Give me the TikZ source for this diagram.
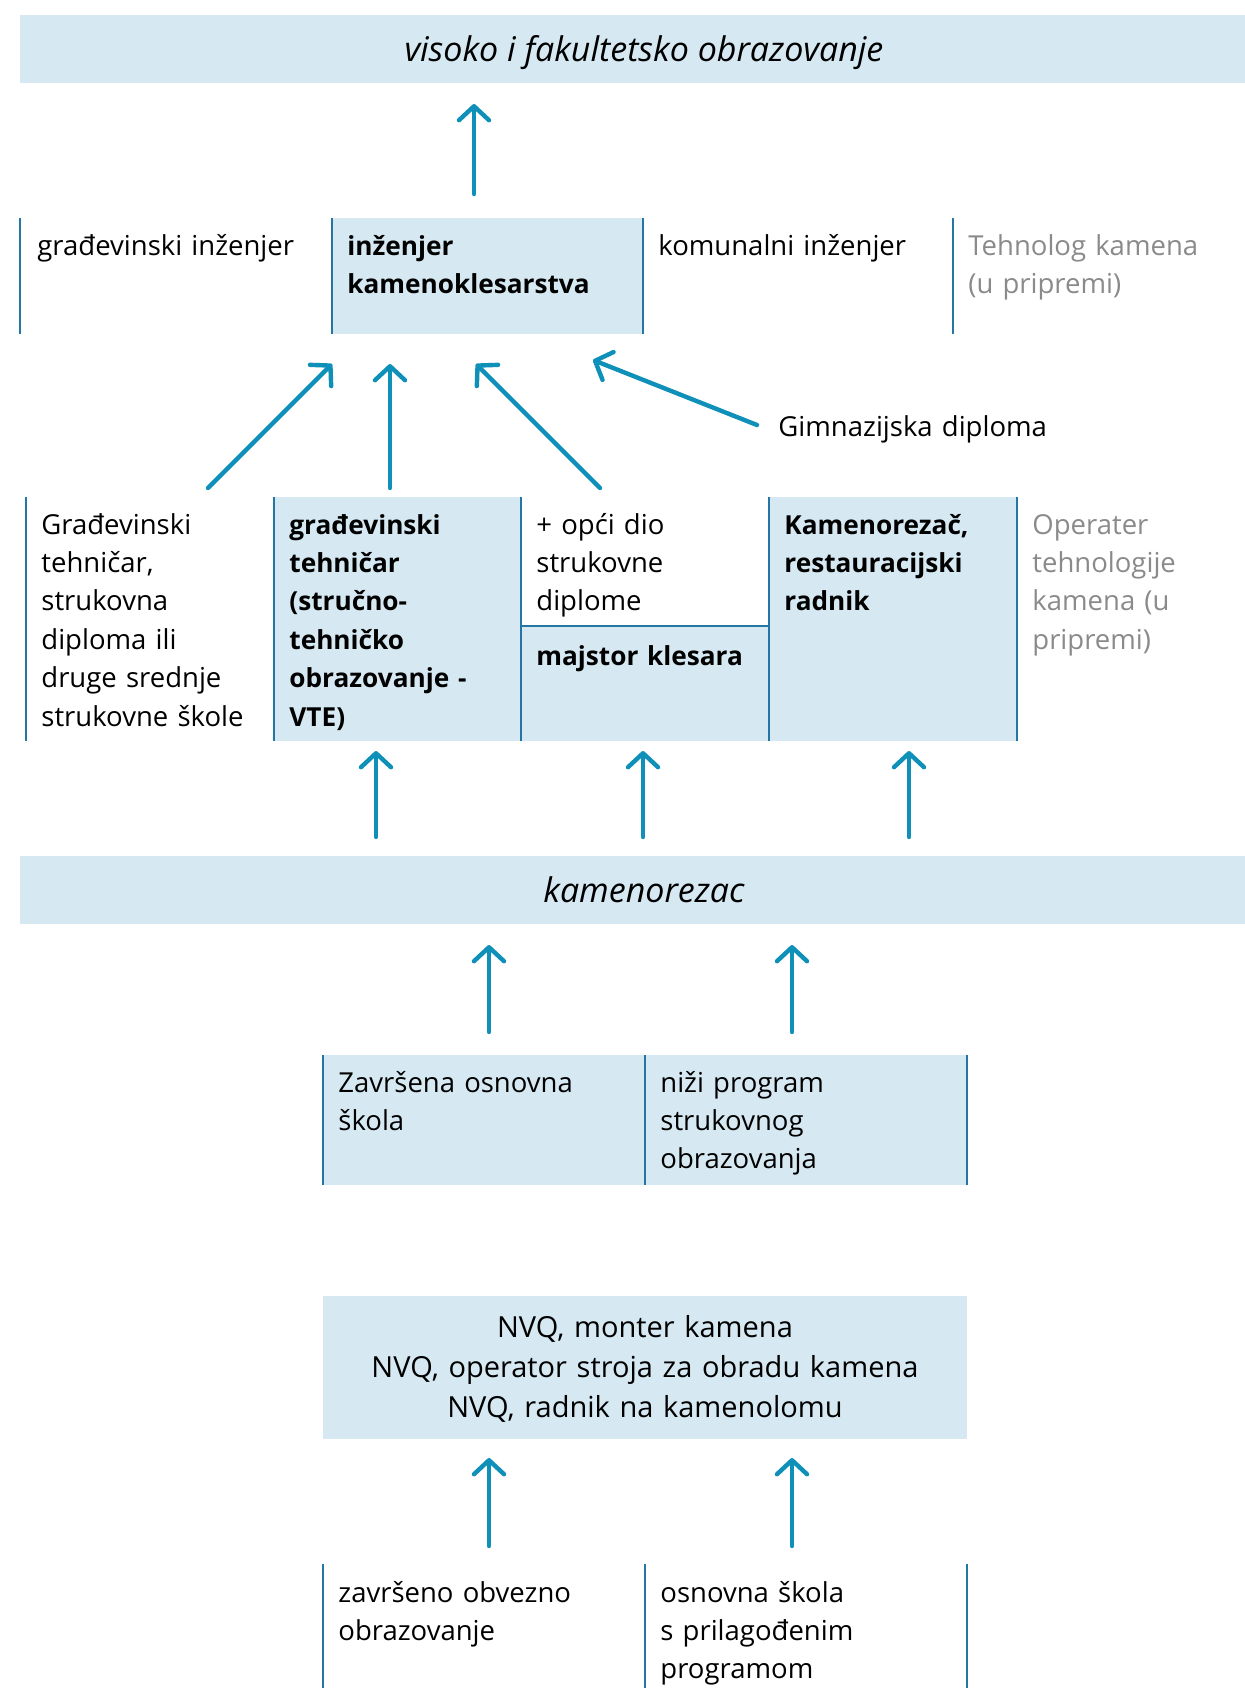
\documentclass[tikz,border=0pt]{standalone}
\usepackage{fontspec}
\setmainfont{Open Sans}
\usetikzlibrary{arrows.meta}

\definecolor{boxfill}{HTML}{D6E8F2}
\definecolor{boxline}{HTML}{2676A3}
\definecolor{arrowcol}{HTML}{0E90B8}
\definecolor{greytext}{HTML}{8A8A8A}

\tikzset{
    txt/.style={anchor=base west, inner sep=0pt, text width=135pt, align=left,
        font=\fontsize{13.75}{19.2}\selectfont},
    boldtxt/.style={txt, font=\fontsize{13.1}{19.2}\selectfont\bfseries},
    greytxt/.style={txt, text=greytext},
    bandtxt/.style={anchor=base, inner sep=0pt, font=\fontsize{17}{20}\selectfont\itshape},
    divider/.style={boxline, line width=1pt},
    arr/.style={arrowcol, line width=2.2pt, line cap=round,
        -{Straight Barb[length=7pt,width=15pt,round]}},
}

\begin{document}
\begin{tikzpicture}[x=0.5pt,y=-0.5pt]
    \useasboundingbox (0,0) rectangle (1245,1688);

    % top band
    \fill[boxfill] (20,15) rectangle (1245,83);
    \node[bandtxt] (vis) at (644,61) {visoko i fakultetsko obrazovanje};

    % engineers
    \fill[boxfill] (332,218) rectangle (643,334);
    \foreach \x in {20,332,643,953}
        \draw[divider] (\x,218) -- (\x,334);
    \node[txt] (grin) at (37,255) {građevinski inženjer};
    \node[boldtxt] (inz) at (347,255) {inženjer\\ kamenoklesarstva};
    \node[txt] (kom) at (658,255) {komunalni inženjer};
    \node[greytxt] (teh) at (968,255) {Tehnolog kamena\\ (u pripremi)};

    % secondary level
    \fill[boxfill] (274,497) rectangle (521,741);
    \fill[boxfill] (521,626) rectangle (769,741);
    \fill[boxfill] (769,497) rectangle (1017,741);
    \foreach \x in {26,274,521,769,1017}
        \draw[divider] (\x,497) -- (\x,741);
    \draw[divider] (521,626) -- (769,626);
    \node[txt] (grt) at (41,534) {Građevinski\\ tehničar,\\ strukovna\\ diploma ili\\ druge srednje\\ strukovne škole};
    \node[boldtxt] (vte) at (289,534) {građevinski\\ tehničar\\ (stručno-\\ tehničko\\ obrazovanje -\\ VTE)};
    \node[txt] (opci) at (536,534) {+ opći dio\\ strukovne\\ diplome};
    \node[boldtxt] (maj) at (536,665) {majstor klesara};
    \node[boldtxt] (krz) at (784,534) {Kamenorezač,\\ restauracijski\\ radnik};
    \node[greytxt] (oper) at (1032,534) {Operater\\ tehnologije\\ kamena (u\\ pripremi)};
    \node[txt] (gim) at (778,436) {Gimnazijska diploma};

    % kamenorezac band
    \fill[boxfill] (20,856) rectangle (1245,924);
    \node[bandtxt] (kmz) at (644,902) {kamenorezac};

    % entry
    \fill[boxfill] (323,1055) rectangle (967,1185);
    \foreach \x in {323,645,967}
        \draw[divider] (\x,1055) -- (\x,1185);
    \node[txt] (zos) at (338,1092) {Završena osnovna\\ škola};
    \node[txt] (niz) at (660,1092) {niži program\\ strukovnog\\ obrazovanja};

    % NVQ
    \fill[boxfill] (323,1296) rectangle (967,1439);
    \node[anchor=base, inner sep=0pt, text width=310pt, align=center,
        font=\fontsize{14.5}{20}\selectfont] (nvq) at (645,1337)
        {NVQ, monter kamena\\ NVQ, operator stroja za obradu kamena\\ NVQ, radnik na kamenolomu};

    % bottom
    \foreach \x in {323,645,967}
        \draw[divider] (\x,1564) -- (\x,1688);
    \node[txt] (zob) at (338,1602) {završeno obvezno\\ obrazovanje};
    \node[txt] (osn) at (660,1602) {osnovna škola\\ s prilagođenim\\ programom};

    % arrow ends
    \coordinate (t0) at (474,194);   \coordinate (h0) at (474,104);
    \coordinate (t1) at (208,488);   \coordinate (h1) at (332,364);
    \coordinate (t2) at (390,488);   \coordinate (h2) at (390,364);
    \coordinate (t3) at (600,488);   \coordinate (h3) at (476,364);
    \coordinate (t4) at (757,425);   \coordinate (h4) at (593,360);
    \coordinate (t5) at (376,837);   \coordinate (h5) at (376,751);
    \coordinate (t6) at (643,837);   \coordinate (h6) at (643,751);
    \coordinate (t7) at (909,837);   \coordinate (h7) at (909,751);
    \coordinate (t8) at (489,1032);  \coordinate (h8) at (489,945);
    \coordinate (t9) at (792,1032);  \coordinate (h9) at (792,945);
    \coordinate (t10) at (489,1546); \coordinate (h10) at (489,1458);
    \coordinate (t11) at (792,1546); \coordinate (h11) at (792,1458);

    \foreach \i in {0,...,11}
        \draw[arr] (t\i) -- (h\i);
\end{tikzpicture}
\end{document}
